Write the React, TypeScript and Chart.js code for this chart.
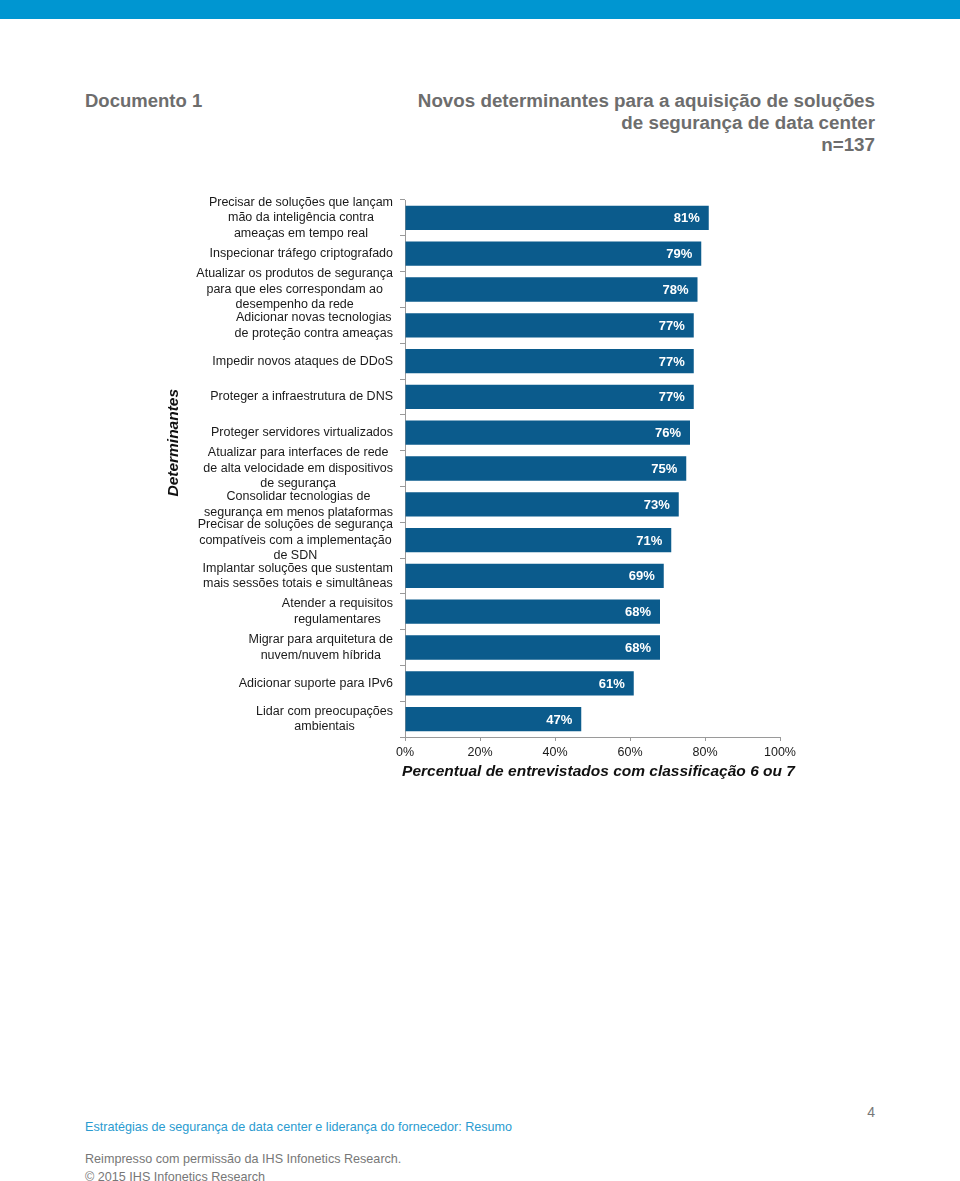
import React, { useEffect, useRef } from "react";
import { Chart, registerables } from "chart.js";

Chart.register(...registerables);

const categories: string[][] = [
  ["Precisar de soluções que lançam", "mão da inteligência contra", "ameaças em tempo real"],
  ["Inspecionar tráfego criptografado"],
  ["Atualizar os produtos de segurança", "para que eles correspondam ao", "desempenho da rede"],
  ["Adicionar novas tecnologias", "de proteção contra ameaças"],
  ["Impedir novos ataques de DDoS"],
  ["Proteger a infraestrutura de DNS"],
  ["Proteger servidores virtualizados"],
  ["Atualizar para interfaces de rede", "de alta velocidade em dispositivos", "de segurança"],
  ["Consolidar tecnologias de", "segurança em menos plataformas"],
  ["Precisar de soluções de segurança", "compatíveis com a implementação", "de SDN"],
  ["Implantar soluções que sustentam", "mais sessões totais e simultâneas"],
  ["Atender a requisitos", "regulamentares"],
  ["Migrar para arquitetura de", "nuvem/nuvem híbrida"],
  ["Adicionar suporte para IPv6"],
  ["Lidar com preocupações", "ambientais"],
];

const values: number[] = [81, 79, 78, 77, 77, 77, 76, 75, 73, 71, 69, 68, 68, 61, 47];

const xTicks: number[] = [0, 20, 40, 60, 80, 100];

const xTitle = "Percentual de entrevistados com classificação 6 ou 7";
const yTitle = "Determinantes";

const FONT = "'Liberation Sans', Arial, Helvetica, sans-serif";

const customPlugin = {
  id: "customLabels",
  afterDraw(chart: any) {
    const ctx = chart.ctx;
    const y = chart.scales.y;
    const x = chart.scales.x;
    ctx.save();
    // category labels, right-aligned blocks with centered lines
    ctx.font = `12.5px ${FONT}`;
    ctx.fillStyle = "#1a1a1a";
    ctx.textBaseline = "middle";
    ctx.textAlign = "center";
    const rightEdge = chart.chartArea.left - 12;
    const lh = 15.5;
    categories.forEach((lines, i) => {
      const cy = y.getPixelForValue(i);
      let widest = 0;
      lines.forEach((l) => {
        widest = Math.max(widest, ctx.measureText(l).width);
      });
      const cx = rightEdge - widest / 2;
      const start = cy - ((lines.length - 1) * lh) / 2;
      lines.forEach((l, k) => {
        ctx.fillText(l, cx, start + k * lh);
      });
    });
    // value labels
    ctx.font = `bold 13px ${FONT}`;
    ctx.fillStyle = "#ffffff";
    ctx.textAlign = "right";
    const meta = chart.getDatasetMeta(0);
    meta.data.forEach((bar: any, i: number) => {
      ctx.fillText(values[i] + "%", bar.x - 9, bar.y + 1);
    });
    // x title
    ctx.font = `italic bold 15.5px ${FONT}`;
    ctx.fillStyle = "#111111";
    ctx.textAlign = "center";
    ctx.fillText(xTitle, (x.left + x.right) / 2 + 6, chart.chartArea.bottom + 35);
    // y title
    ctx.translate(14, chart.chartArea.top + (chart.chartArea.bottom - chart.chartArea.top) * 0.452);
    ctx.rotate(-Math.PI / 2);
    ctx.fillText(yTitle, 0, 0);
    ctx.restore();
  },
};

function BarChart() {
  const ref = useRef<HTMLCanvasElement | null>(null);
  useEffect(() => {
    if (!ref.current) return;
    const chart = new Chart(ref.current, {
      type: "bar",
      data: {
        labels: categories.map((c) => c.join(" ")),
        datasets: [
          {
            data: values,
            backgroundColor: "#0B5B8C",
            categoryPercentage: 1,
            barPercentage: 0.68,
          },
        ],
      },
      options: {
        indexAxis: "y",
        animation: false,
        responsive: false,
        devicePixelRatio: 1,
        layout: { padding: { left: 240, right: 20, top: 10, bottom: 26 } },
        plugins: {
          legend: { display: false },
          tooltip: { enabled: false },
          title: { display: false },
        },
        scales: {
          x: {
            type: "linear",
            min: 0,
            max: 100,
            afterBuildTicks: (scale: any) => {
              scale.ticks = xTicks.map((v) => ({ value: v }));
            },
            ticks: {
              callback: (v: any) => v + "%",
              font: { family: FONT, size: 12.5 },
              color: "#1a1a1a",
              padding: 4,
              maxRotation: 0,
            },
            grid: { drawOnChartArea: false, tickLength: 4, color: "#9a9a9a" },
            border: { color: "#9a9a9a" },
          },
          y: {
            ticks: { display: false },
            grid: { drawOnChartArea: false, tickLength: 5, color: "#9a9a9a" },
            border: { color: "#9a9a9a" },
          },
        },
      },
      plugins: [customPlugin],
    });
    return () => chart.destroy();
  }, []);
  return (
    <canvas
      ref={ref}
      width={640}
      height={600}
      style={{ position: "absolute", left: 160, top: 190, width: 640, height: 600 }}
    />
  );
}

export default function App() {
  const gray = "#6d6d6d";
  return (
    <div
      style={{
        position: "absolute",
        left: 0,
        top: 0,
        width: 960,
        height: 1181,
        background: "#ffffff",
        fontFamily: FONT,
        overflow: "hidden",
      }}
    >
      <div style={{ position: "absolute", left: 0, top: 0, width: 960, height: 19, background: "#0096D1" }} />
      <div
        style={{
          position: "absolute",
          left: 85,
          top: 90,
          fontSize: 18.5,
          fontWeight: "bold",
          color: gray,
          lineHeight: "22px",
        }}
      >
        Documento 1
      </div>
      <div
        style={{
          position: "absolute",
          right: 85,
          top: 90,
          fontSize: 18.8,
          fontWeight: "bold",
          color: gray,
          lineHeight: "22px",
          textAlign: "right",
          whiteSpace: "nowrap",
        }}
      >
        Novos determinantes para a aquisição de soluções
        <br />
        de segurança de data center
        <br />
        n=137
      </div>
      <BarChart />
      <div style={{ position: "absolute", right: 85, top: 1103, fontSize: 14, color: "#777", lineHeight: "18px" }}>4</div>
      <div
        style={{
          position: "absolute",
          left: 85,
          top: 1119,
          fontSize: 12.6,
          color: "#2A9BD0",
          lineHeight: "16px",
          whiteSpace: "nowrap",
        }}
      >
        Estratégias de segurança de data center e liderança do fornecedor: Resumo
      </div>
      <div
        style={{
          position: "absolute",
          left: 85,
          top: 1150,
          fontSize: 12.6,
          color: "#777",
          lineHeight: "18px",
          whiteSpace: "nowrap",
        }}
      >
        Reimpresso com permissão da IHS Infonetics Research.
        <br />© 2015 IHS Infonetics Research
      </div>
    </div>
  );
}
